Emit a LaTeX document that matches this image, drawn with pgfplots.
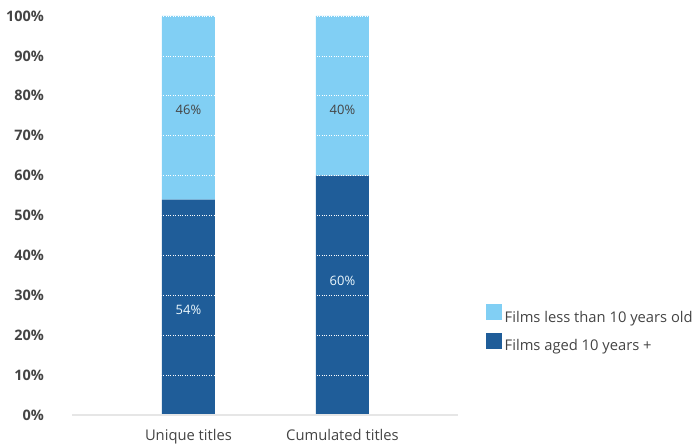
\documentclass[border=0pt]{standalone}
\usepackage{pgfplots}
\pgfplotsset{compat=1.18}
\usepackage{fontspec}
\setmainfont{Open Sans}
\definecolor{lightb}{HTML}{81CFF4}
\definecolor{darkb}{HTML}{1F5D99}
\definecolor{txt}{HTML}{444444}
\definecolor{axl}{HTML}{E6E6E6}
\begin{document}
\begin{tikzpicture}
\path[use as bounding box] (0bp,0bp) rectangle (699bp,447bp);
\begin{axis}[
  at={(72bp,32bp)}, anchor=south west,
  scale only axis, width=386bp, height=399bp,
  ybar stacked, bar width=53bp,
  xmin=-0.756, xmax=1.75, ymin=0, ymax=100,
  xtick=data, xticklabels={Unique titles, Cumulated titles},
  ytick={0,10,...,100},
  yticklabel={\pgfmathprintnumber{\tick}\%},
  /pgf/number format/assume math mode=true,
  yticklabel style={font=\fontsize{14.5}{16}\selectfont\bfseries, text=txt, anchor=east, xshift=-24.5bp},
  xticklabel style={font=\fontsize{14.8}{17}\selectfont, text=txt, yshift=-11bp},
  major tick length=0pt,
  axis y line*=left, y axis line style={draw=none},
  axis x line*=bottom,
  x axis line style={draw=axl, line width=2bp, -},
  ymajorgrids, grid style={white, dash pattern=on 0.8bp off 1.6bp, line width=0.7bp},
  axis on top,
  legend style={at={(1.0725,0.278)}, anchor=north west, draw=none, fill=none,
    font=\fontsize{14.8}{17}\selectfont, text=txt, row sep=9.5bp, inner sep=0pt,
    nodes={inner xsep=2.5bp, inner ysep=0pt}},
  legend cell align=left, reverse legend,
  legend image code/.code={\fill[#1] (0,-3bp) rectangle (16bp,13bp);},
  clip=false,
]
\addplot[fill=darkb, draw=none] coordinates {(0,54) (1,60)};
\addlegendentry{Films aged 10 years +}
\addplot[fill=lightb, draw=none] coordinates {(0,46) (1,40)};
\addlegendentry{Films less than 10 years old}
\coordinate (la) at (axis cs:0,26.3);
\coordinate (lb) at (axis cs:1,33.6);
\coordinate (lc) at (axis cs:0,76.4);
\coordinate (ld) at (axis cs:1,76.4);
\end{axis}
\node[font=\fontsize{13}{15}\selectfont, text=white!85!lightb] at (la) {54\%};
\node[font=\fontsize{13}{15}\selectfont, text=white!85!lightb] at (lb) {60\%};
\node[font=\fontsize{13}{15}\selectfont, text=txt] at (lc) {46\%};
\node[font=\fontsize{13}{15}\selectfont, text=txt] at (ld) {40\%};
\end{tikzpicture}
\end{document}
